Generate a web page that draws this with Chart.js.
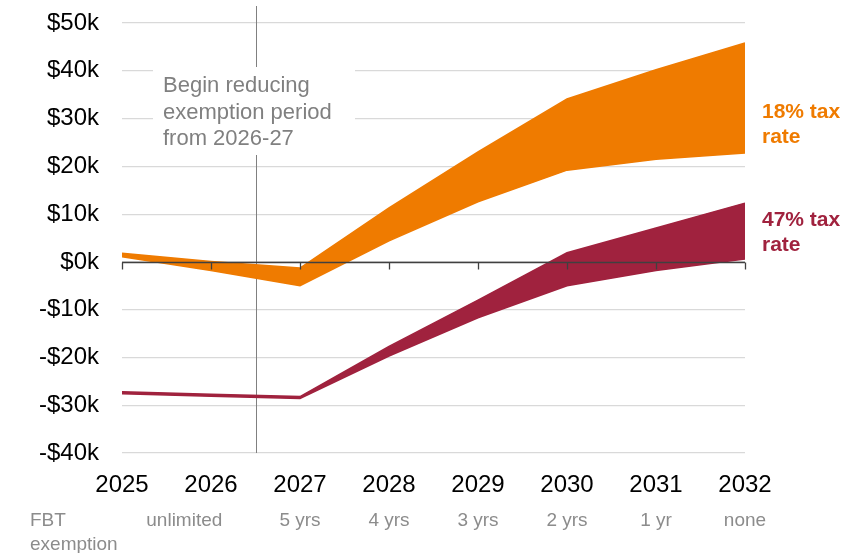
<!DOCTYPE html>
<html>
<head>
<meta charset="utf-8">
<script src="https://cdn.jsdelivr.net/npm/chart.js@4"></script>
<style>
  html, body { margin: 0; padding: 0; background: #fff; }
  #wrap { width: 861px; height: 553px; }
</style>
</head>
<body>
<div id="wrap"><canvas id="chart"></canvas></div>
<script>
// values in $ thousands
const years = [2025, 2026, 2027, 2028, 2029, 2030, 2031, 2032]
const rate18High = [1.8, 0.1, -1.3, 11.3, 23.0, 34.1, 40.2, 45.8]
const rate18Low = [1.1, -1.8, -5.0, 4.4, 12.6, 19.2, 21.5, 22.8]
const rate47High = [-27.2, -27.7, -28.2, -17.7, -8.0, 1.9, 7.1, 12.3]
const rate47Low = [-27.6, -28.1, -28.6, -19.7, -11.7, -5.0, -1.8, 0.6]
const exemption = ['', 'unlimited', '5 yrs', '4 yrs', '3 yrs', '2 yrs', '1 yr', 'none']
const exemptionAt = [2025, 2025.7, 2027, 2028, 2029, 2030, 2031, 2032]
const yMin = -40
const yMax = 50
const changeYear = 2026.5
const noteLines = ['Begin reducing', 'exemption period', 'from 2026-27']

const orange = '#ef7b00'
const red = '#a0223e'
const font = "'Liberation Sans', Arial, sans-serif"

function toPoints(arr) {
    return years.map((yr, i) => ({ x: yr, y: arr[i] }))
}

function band(arr, colour, fill) {
    return {
        data: toPoints(arr),
        borderColor: colour,
        backgroundColor: colour,
        borderWidth: 1.5,
        pointRadius: 0,
        tension: 0,
        fill: fill
    }
}

// Draws the change line, note, zero axis and side labels
const extras = {
    id: 'extras',
    beforeDatasetsDraw(chart) {
        const { ctx, chartArea, scales: { x } } = chart
        const vx = Math.round(x.getPixelForValue(changeYear)) + 0.5
        ctx.save()
        ctx.strokeStyle = '#808080'
        ctx.lineWidth = 1
        ctx.beginPath()
        ctx.moveTo(vx, chartArea.top - 17)
        ctx.lineTo(vx, chartArea.bottom)
        ctx.stroke()

        // white box behind note
        ctx.fillStyle = '#fff'
        ctx.fillRect(chartArea.left + 31, chartArea.top + 44, 202, 88)

        ctx.fillStyle = '#808080'
        ctx.font = `22px ${font}`
        ctx.textAlign = 'left'
        ctx.textBaseline = 'alphabetic'
        noteLines.forEach((line, i) => {
            ctx.fillText(line, chartArea.left + 41, chartArea.top + 69 + i * 26.7)
        })
        ctx.restore()
    },
    afterDatasetsDraw(chart) {
        const { ctx, chartArea, scales: { x, y } } = chart
        const y0 = Math.round(y.getPixelForValue(0)) + 0.5
        ctx.save()
        ctx.strokeStyle = '#404040'
        ctx.lineWidth = 1.3
        ctx.beginPath()
        ctx.moveTo(chartArea.left, y0)
        ctx.lineTo(chartArea.right, y0)
        years.forEach(yr => {
            const px = Math.round(x.getPixelForValue(yr)) + 0.5
            ctx.moveTo(px, y0)
            ctx.lineTo(px, y0 + 7)
        })
        ctx.stroke()

        // series labels on the right
        ctx.font = `bold 21px ${font}`
        ctx.textAlign = 'left'
        ctx.fillStyle = orange
        ctx.fillText('18% tax', chartArea.right + 17, 118)
        ctx.fillText('rate', chartArea.right + 17, 143)
        ctx.fillStyle = red
        ctx.fillText('47% tax', chartArea.right + 17, 226)
        ctx.fillText('rate', chartArea.right + 17, 251)

        // exemption row
        ctx.font = `19px ${font}`
        ctx.fillStyle = '#8c8c8c'
        ctx.fillText('FBT', 30, 526)
        ctx.fillText('exemption', 30, 550)
        ctx.textAlign = 'center'
        exemption.forEach((lbl, i) => {
            if (lbl) ctx.fillText(lbl, x.getPixelForValue(exemptionAt[i]), 526)
        })
        ctx.restore()
    }
}

new Chart(document.querySelector('#chart'), {
    type: 'line',
    data: {
        datasets: [
            band(rate18High, orange, '+1'),
            band(rate18Low, orange, false),
            band(rate47High, red, '+1'),
            band(rate47Low, red, false)
        ]
    },
    options: {
        responsive: true,
        maintainAspectRatio: false,
        animation: false,
        layout: { padding: { top: 23, right: 116, bottom: 0, left: 0 } },
        plugins: { legend: { display: false }, tooltip: { enabled: false } },
        scales: {
            x: {
                type: 'linear',
                min: years[0],
                max: years[years.length - 1],
                afterFit(scale) {
                    scale.height = 100
                    scale.paddingLeft = 0
                    scale.paddingRight = 0
                },
                afterBuildTicks(scale) { scale.ticks = years.map(v => ({ value: v })) },
                grid: { display: false, drawTicks: false },
                border: { display: false },
                ticks: {
                    color: '#000',
                    padding: 18,
                    font: { family: font, size: 24 },
                    callback: v => String(v)
                }
            },
            y: {
                min: yMin,
                max: yMax,
                afterFit(scale) {
                    scale.width = 122
                    scale.paddingTop = 0
                    scale.paddingBottom = 0
                },
                grid: { color: '#d9d9d9', lineWidth: 1.2, drawTicks: false },
                border: { display: false },
                ticks: {
                    stepSize: 10,
                    color: '#000',
                    padding: 23,
                    font: { family: font, size: 24 },
                    callback: v => (v < 0 ? '-' : '') + '$' + Math.abs(v) + 'k'
                }
            }
        }
    },
    plugins: [extras]
})
</script>
</body>
</html>
